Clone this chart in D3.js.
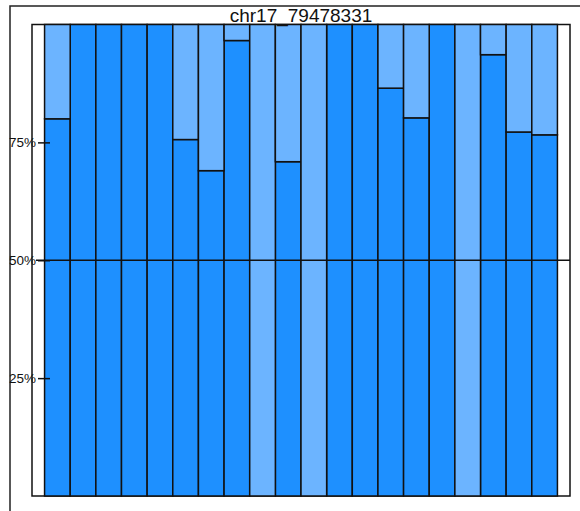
<!DOCTYPE html>
<html>
<head>
<meta charset="utf-8">
<script src="https://cdn.jsdelivr.net/npm/d3@7"></script>
<style>
  html, body { margin: 0; padding: 0; background: #fff; }
  svg { display: block; font-family: "Liberation Sans", Arial, sans-serif; }
</style>
</head>
<body>
<div id="chart"></div>
<script>
// Chart title
const title = 'chr17_79478331';

// One bar per sample (no labels shown on the x axis)
const samples = d3.range(1, 21).map(i => 'S' + i);

// Fraction of the dark (bottom) segment for each sample
const darkShare = [0.80, 1, 1, 1, 1, 0.756, 0.69, 0.966, 0, 0.709,
                   0, 1, 1, 0.865, 0.802, 1, 0, 0.936, 0.772, 0.766];

// Fraction of the light (top) segment
const lightShare = darkShare.map(v => 1 - v);

const yTicks = [0.25, 0.5, 0.75];

const keys = ['dark', 'light'];
const colors = { dark: '#1e90ff', light: '#6cb4ff' };

const width = 580;
const height = 511;
const panel = { left: 32, right: 570, top: 24.5, bottom: 496 };

const svg = d3.select('#chart')
    .append('svg')
    .attr('width', width)
    .attr('height', height);

// Outer frame (only the top and left edges are visible)
svg.append('path')
    .attr('d', `M10,${height + 2}V6H${width + 2}`)
    .attr('fill', 'none')
    .attr('stroke', '#222')
    .attr('stroke-width', 1.5);

const x = d3.scaleBand()
    .domain(samples)
    .range([panel.left, panel.right])
    .paddingInner(0)
    .paddingOuter(0.49);

const y = d3.scaleLinear()
    .domain([0, 1])
    .range([panel.bottom, panel.top]);

const rows = samples.map((s, i) => ({ sample: s, dark: darkShare[i], light: lightShare[i] }));
const series = d3.stack().keys(keys)(rows);

// Panel background and border
svg.append('rect')
    .attr('x', panel.left)
    .attr('y', panel.top)
    .attr('width', panel.right - panel.left)
    .attr('height', panel.bottom - panel.top)
    .attr('fill', '#fff')
    .attr('stroke', '#111')
    .attr('stroke-width', 1.5);

// Stacked bars
svg.append('g')
    .selectAll('g')
    .data(series)
    .join('g')
    .attr('fill', d => colors[d.key])
    .selectAll('rect')
    .data(d => d.filter(p => p[1] - p[0] > 0))
    .join('rect')
    .attr('x', d => x(d.data.sample))
    .attr('y', d => y(d[1]))
    .attr('width', x.bandwidth())
    .attr('height', d => y(d[0]) - y(d[1]))
    .attr('stroke', '#111')
    .attr('stroke-width', 1.5);

// 50% reference line
svg.append('line')
    .attr('x1', 36)
    .attr('x2', panel.right)
    .attr('y1', y(0.5))
    .attr('y2', y(0.5))
    .attr('stroke', '#111')
    .attr('stroke-width', 1.5);

// Y axis with ticks drawn into the panel
const yAxis = d3.axisLeft(y)
    .tickValues(yTicks)
    .tickFormat(d3.format('.0%'))
    .tickSizeInner(12)
    .tickSizeOuter(0)
    .tickPadding(2);

const ag = svg.append('g')
    .attr('transform', 'translate(50,0)')
    .call(yAxis);
ag.select('.domain').remove();
ag.selectAll('.tick line').attr('stroke', '#111').attr('stroke-width', 1.5);
ag.selectAll('.tick text')
    .attr('fill', '#111')
    .style('font-size', '13.5px')
    .style('font-family', '"Liberation Sans", Arial, sans-serif');

// Title
svg.append('text')
    .attr('x', (panel.left + panel.right) / 2)
    .attr('y', 22)
    .attr('text-anchor', 'middle')
    .attr('fill', '#111')
    .style('font-size', '19px')
    .text(title);
</script>
</body>
</html>
